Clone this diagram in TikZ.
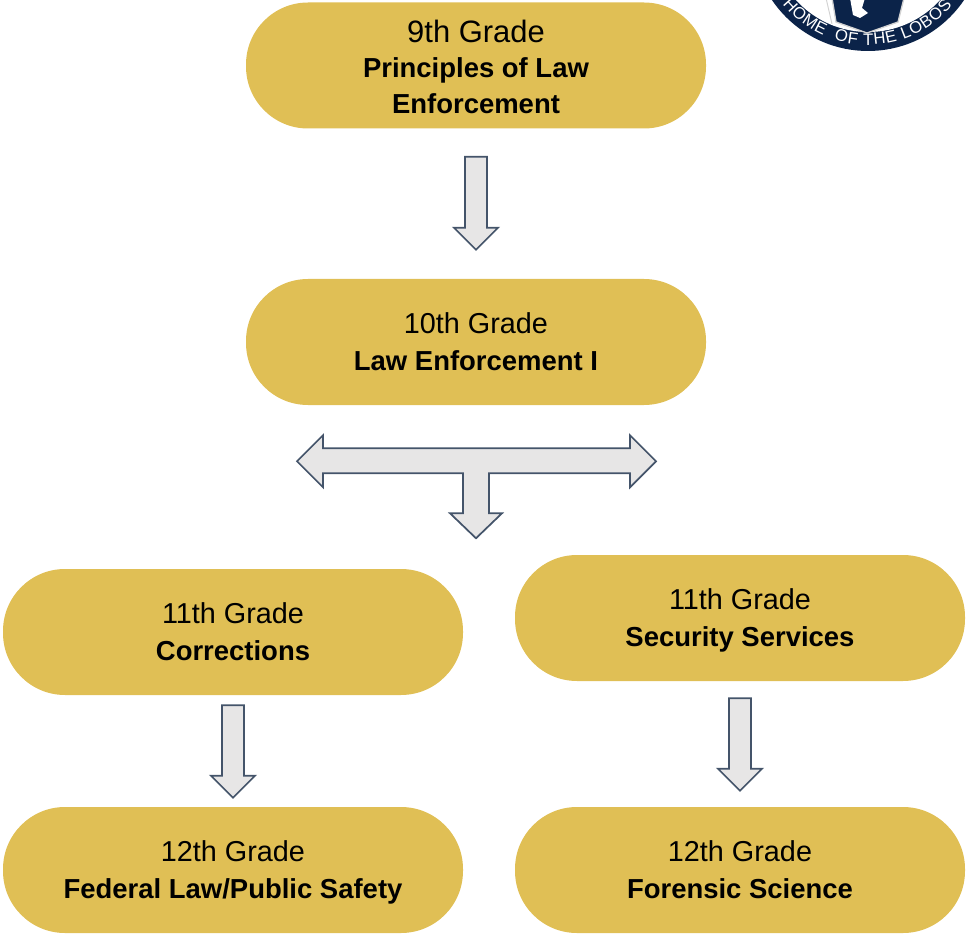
\documentclass[tikz,border=0pt]{standalone}
\usepackage{fontspec}
\setmainfont{Liberation Sans}
\usetikzlibrary{calc,decorations.text}

\definecolor{pillgold}{HTML}{E0BF55}
\definecolor{arrowgray}{HTML}{E7E6E6}
\definecolor{arrowblue}{HTML}{44546A}
\definecolor{logonavy}{HTML}{0B2349}

\newcommand{\course}[1]{\textbf{\fontsize{20.6}{27.4}\selectfont #1}}

\tikzset{
  grade/.style={fill=pillgold,rounded corners=62*0.75pt,minimum height=126*0.75pt,align=center,
    inner sep=0pt,font=\fontsize{21.6}{27.4}\selectfont,text height=50.4pt,text depth=8.2pt},
  arrowline/.style={draw=arrowblue,fill=arrowgray,line width=1.3pt,line join=miter},
  blockarrow/.style={arrowline,to path={
    let \p1=(\tikztostart),\p2=(\tikztotarget) in
    (\x1-11*0.75pt,\y1) -- (\x1+11*0.75pt,\y1) -- (\x1+11*0.75pt,\y2+22*0.75pt) -- (\x1+22*0.75pt,\y2+22*0.75pt)
    -- (\x2,\y2) -- (\x1-22*0.75pt,\y2+22*0.75pt) -- (\x1-11*0.75pt,\y2+22*0.75pt) -- cycle}}
}

\begin{document}
\begin{tikzpicture}[x=0.75pt,y=-0.75pt]
        \useasboundingbox (0,0) rectangle (971,934);

        % logo, cut off by the top edge
        \begin{scope}
        \clip (0,0) rectangle (971,934);
        \fill[logonavy] (868,-65) circle (116);
        \fill[white] (868,-65) circle (97);
        \draw[gray!35,line width=0.7pt] (826,-2) -- (832,24);
        \filldraw[logonavy,draw=gray!35,line width=1pt] (832,-2) -- (836,22) -- (867,33) -- (898,22) -- (904,-2) -- cycle;
        \fill[white] (850,-2) -- (853,15) -- (860,18) -- (868,13) -- (862,8) -- (865,-2) -- cycle;
        \path[postaction={decorate,decoration={text along path,text align={fit to path},
            text={|\fontsize{12.5}{14}\selectfont\color{white}|HOME{ }{ }OF THE LOBOS}}}]
            (868,-65) ++(141:110) arc (141:40:110);
        \end{scope}

        \node[grade,minimum width=460*0.75pt,text height=79.4pt,text depth=7.2pt] (g9) at (476,65.5) {\fontsize{23.2}{27.4}\selectfont 9th Grade\\[-1.1pt]\course{Principles of Law}\\\course{Enforcement}};
        \node[grade,minimum width=460*0.75pt] (g10) at (476,342) {10th Grade\\\course{Law Enforcement I}};
        \node[grade,minimum width=460*0.75pt] (corr) at (233,632) {11th Grade\\\course{Corrections}};
        \node[grade,minimum width=450*0.75pt] (sec) at (740,618) {11th Grade\\\course{Security Services}};
        \node[grade,minimum width=460*0.75pt] (fed) at (233,870) {12th Grade\\\course{Federal Law/Public Safety}};
        \node[grade,minimum width=450*0.75pt] (for) at (740,870) {12th Grade\\\course{Forensic Science}};

        \draw[blockarrow] ($(g9.south)+(0,28)$) to ($(g10.north)+(0,-29)$);
        \draw[blockarrow] ($(corr.south)+(0,10)$) to ($(fed.north)+(0,-9)$);
        \draw[blockarrow] ($(sec.south)+(0,17)$) to ($(for.north)+(0,-16)$);

        % three way arrow under the 10th grade
        \coordinate (split) at ($(g10.south)+(0,56)$);
        \draw[arrowline] (split)
          ++(-179,0) -- ++(26,-26) -- ++(0,13) -- ++(307,0) -- ++(0,-13) -- ++(26,26)
          -- ++(-26,26) -- ++(0,-14) -- ++(-141,0) -- ++(0,40) -- ++(13,0) -- ++(-26,25)
          -- ++(-26,-25) -- ++(13,0) -- ++(0,-40) -- ++(-140,0) -- ++(0,14) -- cycle;
    \end{tikzpicture}
\end{document}
